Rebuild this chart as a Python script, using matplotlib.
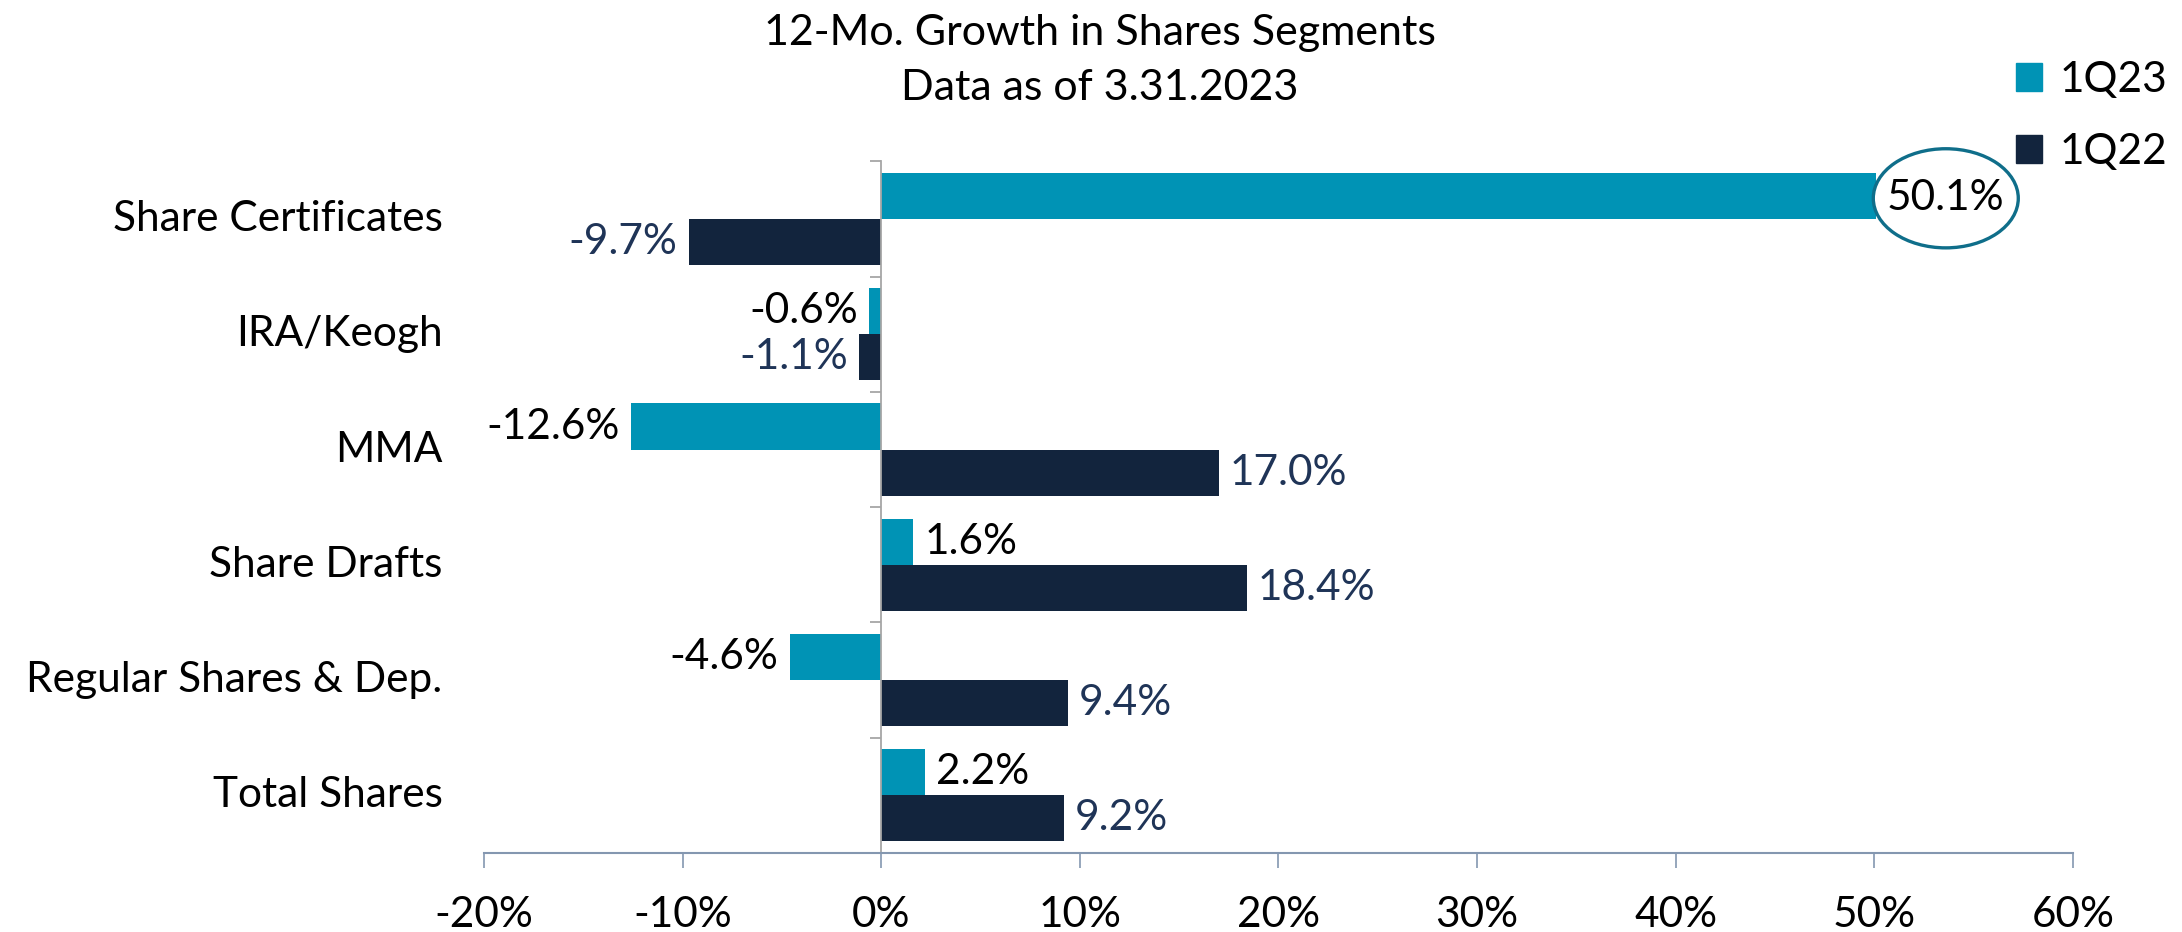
import matplotlib
matplotlib.use("Agg")
import matplotlib.pyplot as plt
from matplotlib.patches import Patch, Ellipse
from matplotlib.ticker import FixedLocator, FuncFormatter

plt.rcParams['font.family'] = ['Lato', 'DejaVu Sans']

categories = ["Share Certificates", "IRA/Keogh", "MMA", "Share Drafts",
              "Regular Shares & Dep.", "Total Shares"]
q23 = [50.1, -0.6, -12.6, 1.6, -4.6, 2.2]
q22 = [-9.7, -1.1, 17.0, 18.4, 9.4, 9.2]
series_names = ["1Q23", "1Q22"]
xticks = [-20, -10, 0, 10, 20, 30, 40, 50, 60]
title_lines = ["12-Mo. Growth in Shares Segments", "Data as of 3.31.2023"]

c23 = "#0093B5"
c22 = "#12243D"
lab22 = "#1F3457"
FS = 30.5

fig = plt.figure(figsize=(21.82, 9.32), dpi=100)
ax = fig.add_axes([0.2218, 0.0848, 0.9500 - 0.2218, 0.8268 - 0.0848])

pos = list(range(len(categories)))
h = 0.4
ax.barh([p - h / 2 for p in pos], q23, height=h, color=c23, label=series_names[0])
ax.barh([p + h / 2 for p in pos], q22, height=h, color=c22, label=series_names[1])

ax.set_xlim(-20, 60)
ax.set_ylim(len(categories) - 0.5, -0.5)

# value labels
for i, v in enumerate(q23):
    y = i - h / 2
    if i == 0:
        ax.add_patch(Ellipse((v + 3.5, y + 0.02), width=7.3, height=0.86,
                             fc="white", ec="#0F6E8A", lw=2.4, zorder=3, clip_on=False))
        ax.text(v + 3.5, y + 0.02, f"{v:.1f}%", ha="center", va="center",
                fontsize=FS, color="black", zorder=4)
        continue
    off = 8 if v >= 0 else -8
    ax.annotate(f"{v:.1f}%", xy=(v, y), xytext=(off, 0), textcoords="offset points",
                ha="left" if v >= 0 else "right", va="center", fontsize=FS, color="black")
for i, v in enumerate(q22):
    y = i + h / 2
    off = 8 if v >= 0 else -8
    ax.annotate(f"{v:.1f}%", xy=(v, y), xytext=(off, 0), textcoords="offset points",
                ha="left" if v >= 0 else "right", va="center", fontsize=FS, color=lab22)

# spines
for s in ["top", "right"]:
    ax.spines[s].set_visible(False)
ax.spines["left"].set_position(("data", 0))
ax.spines["left"].set_color("#A6A6A6")
ax.spines["left"].set_linewidth(1.3)
ax.spines["bottom"].set_color("#8497B0")
ax.spines["bottom"].set_linewidth(1.5)

# y axis: boundary ticks only
ax.yaxis.set_major_locator(FixedLocator([p - 0.5 for p in pos]))
ax.yaxis.set_major_formatter(FuncFormatter(lambda v, p: ""))
ax.tick_params(axis="y", direction="out", length=8, width=1.3, color="#A6A6A6")
for i, c in enumerate(categories):
    ax.text(-0.026, i, c, transform=ax.get_yaxis_transform(), ha="right", va="center",
            fontsize=FS, color="black")

# x axis
ax.set_xticks(xticks)
ax.set_xticklabels([f"{t}%" for t in xticks])
ax.tick_params(axis="x", direction="out", length=11, width=1.2, color="#8497B0",
               pad=20, labelsize=FS, labelcolor="black")

# title
fig.text(0.504, 1 - 33 / 932, title_lines[0], ha="center", va="center", fontsize=FS + 0.5)
fig.text(0.504, 1 - 88 / 932, title_lines[1], ha="center", va="center", fontsize=FS + 0.5)

# legend
handles = [Patch(color=c23), Patch(color=c22)]
fig.legend(handles, series_names, loc="upper left", bbox_to_anchor=(0.924, 1 - 61 / 932),
           frameon=False, fontsize=FS, handlelength=0.62, handleheight=0.62,
           handletextpad=0.4, labelspacing=0.8, borderpad=0, borderaxespad=0)

fig.savefig("out.png", dpi=100)
